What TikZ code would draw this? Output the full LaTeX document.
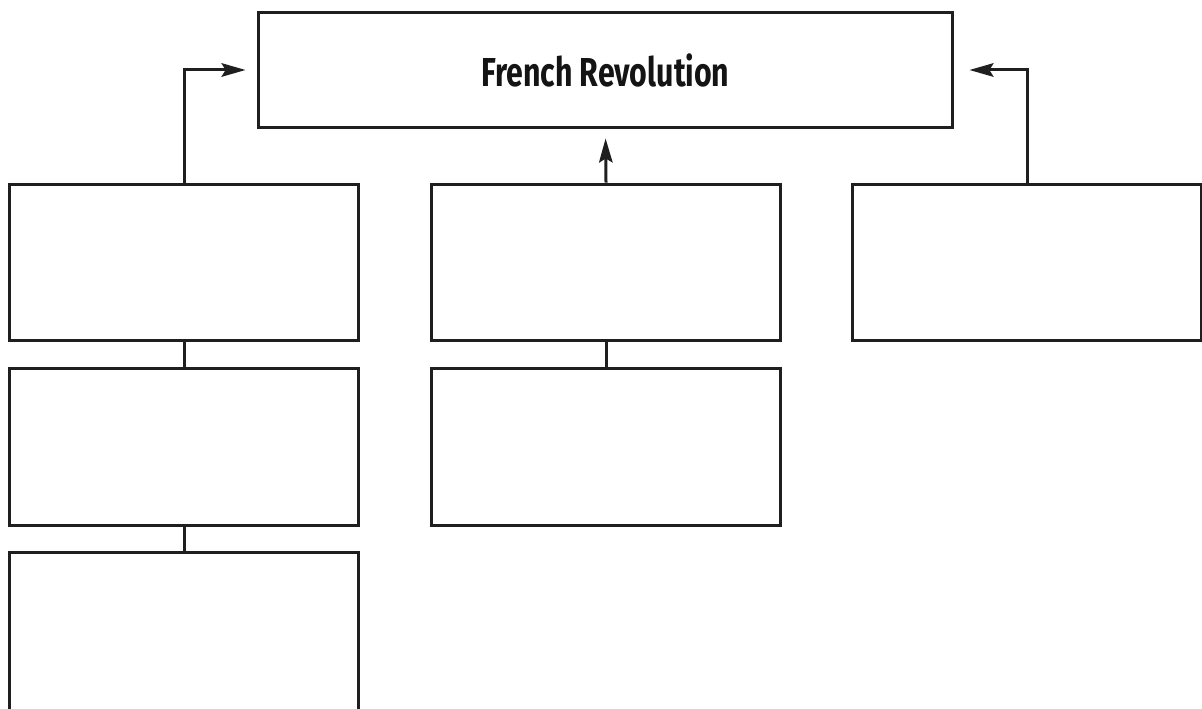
\documentclass[tikz,border=0pt]{standalone}
\usepackage{fontspec}
\newfontfamily\headfont[FakeStretch=0.75]{Fira Sans}
\usetikzlibrary{arrows.meta}
\colorlet{inkK}{black!88}
\tikzstyle{cell}=[rectangle, draw=inkK, line width=0.06cm, minimum width=6.98cm, minimum height=3.14cm, inner sep=0pt]
\tikzstyle{head}=[rectangle, draw=inkK, line width=0.06cm, minimum width=13.9cm, minimum height=2.32cm, inner sep=0pt, text=black!92, font=\headfont\bfseries\fontsize{23}{26}\selectfont]
\tikzstyle{link}=[draw=inkK, line width=0.06cm]
\tikzstyle{feed}=[link, -{Stealth[length=0.48cm, width=0.27cm, inset=0.08cm]}]

\begin{document}
\begin{tikzpicture}[x=0.02cm, y=-0.02cm]
				\useasboundingbox (0,0) rectangle (1202,709);
				\clip (0,0) rectangle (1202,709);

				% Topic box
				\node[head] (topic) at (605.5, 70) {French Revolution};

				% Left column
				\node[cell] (L1) at (184, 262.5) {};
				\node[cell] (L2) at (184, 447) {};
				\node[cell, minimum height=3.52cm] (L3) at (184, 640) {};

				% Middle column
				\node[cell] (M1) at (606, 262.5) {};
				\node[cell] (M2) at (606, 447) {};

				% Right column
				\node[cell] (R1) at (1027, 262.5) {};

				% Links
				\draw[link] (L1.south) -- (L2.north);
				\draw[link] (L2.south) -- (L3.north);
				\draw[link] (M1.south) -- (M2.north);

				\draw[feed, shorten >=0.22cm] (L1.north) |- (topic.west);
				\draw[feed, shorten >=0.18cm] (M1.north) -- (topic.south);
				\draw[feed, shorten >=0.3cm] (R1.north) |- (topic.east);
			\end{tikzpicture}
\end{document}
